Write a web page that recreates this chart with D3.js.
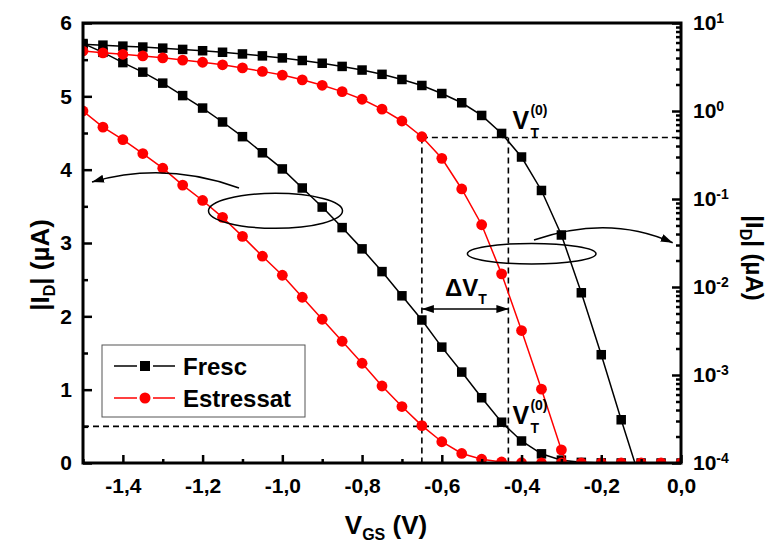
<!DOCTYPE html>
<html>
<head>
<meta charset="utf-8">
<script src="https://cdn.jsdelivr.net/npm/d3@7"></script>
<style>
  body { margin: 0; background: #fff; }
  svg { display: block; font-family: "Liberation Sans", Arial, sans-serif; font-weight: bold; }
</style>
</head>
<body>
<svg id="chart" width="771" height="546"></svg>
<script>
// Gate voltage sweep (V)
const vgs = [-1.5, -1.45, -1.4, -1.35, -1.3, -1.25, -1.2, -1.15, -1.1, -1.05, -1.0,
             -0.95, -0.9, -0.85, -0.8, -0.75, -0.7, -0.65, -0.6, -0.55, -0.5,
             -0.45, -0.4, -0.35, -0.3, -0.25, -0.2, -0.15, -0.1, -0.05, 0.0];

// |I_D| in µA, fresh device
const fresc = [5.72, 5.60, 5.46, 5.33, 5.18, 5.01, 4.84, 4.65, 4.45, 4.23, 4.01,
               3.75, 3.49, 3.21, 2.92, 2.61, 2.28, 1.95, 1.58, 1.24, 0.89,
               0.556, 0.30, 0.125, 0.039, 0.0086, 0.0017, 0.00031, 0.00006, 0.00004, 0.00003];

// |I_D| in µA, stressed device
const estressat = [4.80, 4.58, 4.41, 4.22, 4.02, 3.79, 3.58, 3.35, 3.09, 2.82, 2.56,
                   2.26, 1.96, 1.66, 1.36, 1.05, 0.77, 0.51, 0.29, 0.13, 0.051,
                   0.0141, 0.0032, 0.00069, 0.000141, 0.00004, 0.00003, 0.00003, 0.00003, 0.00003, 0.00003];

const seriesNames = ["Fresc", "Estressat"];

const xTickValues = [-1.4, -1.2, -1.0, -0.8, -0.6, -0.4, -0.2, 0.0];
const xTickLabels = ["-1,4", "-1,2", "-1,0", "-0,8", "-0,6", "-0,4", "-0,2", "0,0"];
const xMinorTicks = [-1.5, -1.3, -1.1, -0.9, -0.7, -0.5, -0.3, -0.1];
const yLinTicks = [0, 1, 2, 3, 4, 5, 6];
const yLinMinor = [0.5, 1.5, 2.5, 3.5, 4.5, 5.5];
const yLogTicks = [1e-4, 1e-3, 1e-2, 1e-1, 1, 10];
const yLogExponents = ["-4", "-3", "-2", "-1", "0", "1"];

// Threshold extraction: constant-current criterion and resulting thresholds
const iThreshold = 0.5;
const vtFresc = -0.433;
const vtEstressat = -0.65;

const plot = { left: 83, top: 23, right: 681, bottom: 463 };

const svg = d3.select("#chart");

const x = d3.scaleLinear().domain([-1.5, 0]).range([plot.left, plot.right]);
const yLin = d3.scaleLinear().domain([0, 6]).range([plot.bottom, plot.top]);
const yLog = d3.scaleLog().domain([1e-4, 10]).range([plot.bottom, plot.top]);

svg.append("defs").append("clipPath").attr("id", "plotClip")
  .append("rect")
  .attr("x", plot.left).attr("y", plot.top)
  .attr("width", plot.right - plot.left).attr("height", plot.bottom - plot.top);

svg.select("defs").append("marker")
  .attr("id", "head")
  .attr("viewBox", "0 0 12 8")
  .attr("refX", 12).attr("refY", 4)
  .attr("markerWidth", 12).attr("markerHeight", 8)
  .attr("markerUnits", "userSpaceOnUse")
  .attr("orient", "auto-start-reverse")
  .append("path").attr("d", "M0,0 L12,4 L0,8 Z").attr("fill", "#000");

const colors = { Fresc: "#000000", Estressat: "#ff0000" };

// Dashed threshold guides
const guides = svg.append("g")
  .attr("stroke", "#000").attr("stroke-width", 1.6)
  .attr("stroke-dasharray", "6,4").attr("fill", "none");
guides.append("line")
  .attr("x1", x(vtEstressat)).attr("x2", x(0))
  .attr("y1", yLog(iThreshold)).attr("y2", yLog(iThreshold));
guides.append("line")
  .attr("x1", x(-1.5)).attr("x2", x(vtFresc))
  .attr("y1", yLin(iThreshold)).attr("y2", yLin(iThreshold));
guides.append("line")
  .attr("x1", x(vtEstressat)).attr("x2", x(vtEstressat))
  .attr("y1", yLog(iThreshold)).attr("y2", yLin(0));
guides.append("line")
  .attr("x1", x(vtFresc)).attr("x2", x(vtFresc))
  .attr("y1", yLog(iThreshold)).attr("y2", yLin(0));

// Curves: each series on the linear (left) and logarithmic (right) axes
const curves = svg.append("g").attr("clip-path", "url(#plotClip)");

function drawSeries(name, values, yScale) {
  const pts = vgs.map((v, i) => [v, values[i]]);
  const g = curves.append("g");
  const line = d3.line()
    .x(d => x(d[0]))
    .y(d => yScale(d[1]));
  g.append("path")
    .datum(pts)
    .attr("d", line)
    .attr("fill", "none")
    .attr("stroke", colors[name])
    .attr("stroke-width", 1.5);
  if (name === "Fresc") {
    const s = 9.5;
    g.selectAll("rect").data(pts).join("rect")
      .attr("x", d => x(d[0]) - s / 2)
      .attr("y", d => yScale(d[1]) - s / 2)
      .attr("width", s).attr("height", s)
      .attr("fill", colors[name]);
  } else {
    g.selectAll("circle").data(pts).join("circle")
      .attr("cx", d => x(d[0]))
      .attr("cy", d => yScale(d[1]))
      .attr("r", 5.4)
      .attr("fill", colors[name]);
  }
}
drawSeries("Fresc", fresc, yLin);
drawSeries("Fresc", fresc, yLog);
drawSeries("Estressat", estressat, yLin);
drawSeries("Estressat", estressat, yLog);

// Axes (ticks point inward)
const axisFont = 21;
svg.append("g").attr("transform", `translate(0,${plot.bottom})`)
  .call(d3.axisBottom(x).tickValues(xTickValues).tickSize(-8).tickPadding(15)
    .tickFormat((d, i) => xTickLabels[i]));
svg.append("g").attr("transform", `translate(0,${plot.bottom})`)
  .call(d3.axisBottom(x).tickValues(xMinorTicks).tickSize(-4).tickFormat(""));

svg.append("g").attr("transform", `translate(${plot.left},0)`)
  .call(d3.axisLeft(yLin).tickValues(yLinTicks).tickSize(-9).tickPadding(11)
    .tickFormat(d3.format("d")));
svg.append("g").attr("transform", `translate(${plot.left},0)`)
  .call(d3.axisLeft(yLin).tickValues(yLinMinor).tickSize(-5).tickFormat(""));

const logMinor = [];
yLogTicks.slice(0, -1).forEach(t => { for (let k = 2; k <= 9; k++) logMinor.push(t * k); });
const gRight = svg.append("g").attr("transform", `translate(${plot.right},0)`)
  .call(d3.axisRight(yLog).tickValues(yLogTicks).tickSize(-9).tickPadding(12)
    .tickFormat(() => "10"));
svg.append("g").attr("transform", `translate(${plot.right},0)`)
  .call(d3.axisRight(yLog).tickValues(logMinor).tickSize(-5).tickFormat(""));

gRight.selectAll(".tick text").each(function (d, i) {
  d3.select(this).append("tspan")
    .attr("dy", "-0.55em")
    .attr("font-size", 14)
    .text(yLogExponents[i]);
});

svg.selectAll(".domain").remove();
svg.selectAll(".tick line").attr("stroke", "#000").attr("stroke-width", 2.5);
svg.selectAll(".tick text")
  .attr("fill", "#000")
  .attr("font-size", axisFont)
  .attr("font-family", "'Liberation Sans', Arial, sans-serif")
  .attr("font-weight", "bold");

// Frame
svg.append("rect")
  .attr("x", plot.left).attr("y", plot.top)
  .attr("width", plot.right - plot.left).attr("height", plot.bottom - plot.top)
  .attr("fill", "none").attr("stroke", "#000").attr("stroke-width", 3);

// Axis titles
const xt = svg.append("text")
  .attr("x", 386).attr("y", 534)
  .attr("text-anchor", "middle")
  .attr("font-size", 26);
xt.append("tspan").text("V");
xt.append("tspan").attr("font-size", 16).attr("dy", 6).text("GS");
xt.append("tspan").attr("dy", -6).text(" (V)");

function currentTitle(sel) {
  sel.append("tspan").text("|I");
  sel.append("tspan").attr("font-size", 16).attr("dy", 6).text("D");
  sel.append("tspan").attr("dy", -6).text("| (µA)");
}
const lt = svg.append("text")
  .attr("transform", "translate(49,265) rotate(-90)")
  .attr("text-anchor", "middle").attr("font-size", 26);
currentTitle(lt);
const rt = svg.append("text")
  .attr("transform", "translate(746,258) rotate(90)")
  .attr("text-anchor", "middle").attr("font-size", 24);
currentTitle(rt);

// Legend
const legend = svg.append("g");
legend.append("rect")
  .attr("x", 102).attr("y", 345).attr("width", 203).attr("height", 72)
  .attr("fill", "#fff").attr("stroke", "#555").attr("stroke-width", 1);
seriesNames.forEach((name, i) => {
  const cy = 366 + i * 32;
  const g = legend.append("g").attr("stroke", colors[name]).attr("stroke-width", 1.5);
  g.append("line").attr("x1", 114).attr("x2", 137).attr("y1", cy).attr("y2", cy);
  g.append("line").attr("x1", 153).attr("x2", 175).attr("y1", cy).attr("y2", cy);
  if (name === "Fresc") {
    legend.append("rect").attr("x", 140).attr("y", cy - 5).attr("width", 10).attr("height", 10)
      .attr("fill", colors[name]);
  } else {
    legend.append("circle").attr("cx", 145).attr("cy", cy).attr("r", 5.5).attr("fill", colors[name]);
  }
  legend.append("text").attr("x", 183).attr("y", cy + 8.5)
    .attr("font-size", 24).attr("fill", "#000").text(name);
});

// Threshold labels
function vtLabel(x0, baseline) {
  const g = svg.append("g");
  g.append("text").attr("x", x0).attr("y", baseline).attr("font-size", 25).text("V");
  g.append("text").attr("x", x0 + 18).attr("y", baseline - 14).attr("font-size", 14).text("(0)");
  g.append("text").attr("x", x0 + 18).attr("y", baseline + 9).attr("font-size", 14).text("T");
}
vtLabel(x(vtFresc) + 4, 129);
vtLabel(x(vtFresc) + 4, 424);

// Threshold shift arrow
const arrowY = 309;
svg.append("line")
  .attr("x1", x(vtEstressat)).attr("x2", x(vtFresc))
  .attr("y1", arrowY).attr("y2", arrowY)
  .attr("stroke", "#000").attr("stroke-width", 1.5)
  .attr("marker-start", "url(#head)").attr("marker-end", "url(#head)");
const dv = svg.append("text").attr("x", 445).attr("y", 296).attr("font-size", 24);
dv.append("tspan").text("ΔV");
dv.append("tspan").attr("font-size", 14).attr("dy", 8).text("T");

// Curve-group markers: ellipses with arrows pointing to their axes
const notes = svg.append("g").attr("fill", "none").attr("stroke", "#000").attr("stroke-width", 1.5);
notes.append("ellipse").attr("cx", 275.5).attr("cy", 210.8).attr("rx", 67).attr("ry", 17.5);
notes.append("ellipse").attr("cx", 531.7).attr("cy", 253.7).attr("rx", 64.3).attr("ry", 10.3);
notes.append("path").attr("d", "M239,188 Q164.5,161 92,182").attr("marker-end", "url(#head)");
notes.append("path").attr("d", "M534,240 Q608.7,214 672.7,242.7").attr("marker-end", "url(#head)");
</script>
</body>
</html>
